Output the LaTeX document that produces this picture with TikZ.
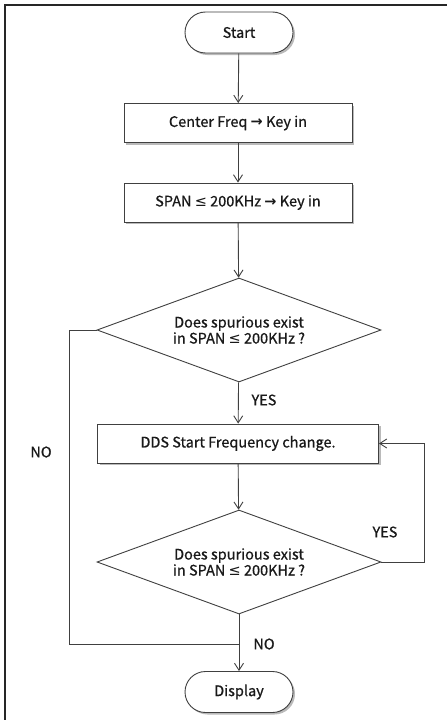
\documentclass[tikz,border=0pt]{standalone}
\usepackage{fontspec}
\setmainfont{Noto Sans CJK KR}[FakeBold=0.7]
\newfontfamily\symf{DejaVu Sans}
\usetikzlibrary{shapes.geometric,shapes.misc,arrows.meta,shadows}
\newcommand{\rarr}{{\symf\bfseries →}}
\newcommand{\leqs}{{\symf ≤}}
\begin{document}
\begin{tikzpicture}[x=1pt,y=-1pt,
  every node/.style={font=\fontsize{14.5}{17}\selectfont, text=black!90},
  line/.style={draw=black!75, line width=0.9pt},
  arr/.style={line, -{Straight Barb[length=7pt,width=9pt]}},
  shad/.style={drop shadow={shadow xshift=2pt,shadow yshift=-2pt,fill=black!45,opacity=.6}},
  term/.style={line, fill=white, shad, rounded rectangle, minimum width=108pt, minimum height=41pt, inner sep=0pt},
  procbox/.style={line, fill=white, shad, rectangle, minimum height=39pt, inner sep=0pt},
  decision/.style={line, fill=white, diamond, shape aspect=2.73, minimum width=284pt, minimum height=104pt, inner sep=0pt, align=center},
  lbl/.style={inner sep=0pt}
]
\useasboundingbox (0,0) rectangle (447,720);
\fill[white] (0,0) rectangle (447,720);
\draw[line width=1.6pt, black!85] (5,720) -- (5,5) -- (447,5);

\node[term] (start) at (239,32.5) {Start};
\node[procbox, minimum width=228pt] (cf) at (238,123) {Center Freq \rarr\ Key in};
\node[procbox, minimum width=228pt] (span) at (238,202.5) {SPAN \leqs\ 200KHz \rarr\ Key in};
\node[decision] (d1) at (239,330) {Does spurious exist\\[-1pt]in SPAN \leqs\ 200KHz ?};
\node[procbox, minimum width=281pt] (dds) at (238,443.5) {DDS Start Frequency change.};
\node[decision] (d2) at (239,562) {Does spurious exist\\[-1pt]in SPAN \leqs\ 200KHz ?};
\node[term] (disp) at (239,692) {Display};

\coordinate (nl) at (69,330);
\coordinate (nb) at (69,644);
\coordinate (j) at (239,644);
\coordinate (fr) at (424,562);
\coordinate (ft) at (424,443.5);

\draw[arr] (start) -- (cf);
\draw[arr] (cf) -- (span);
\draw[arr] (span) -- (d1);
\draw[arr] (d1) -- (dds);
\draw[arr] (dds) -- (d2);
\draw[arr] (d2) -- (disp);
\draw[arr] (d2.east) -- (fr) -- (ft) -- (dds.east);
\draw[line] (d1.west) -- (nl) -- (nb) -- (j);

\node[lbl] at (264,400) {YES};
\node[lbl] at (385,532) {YES};
\node[lbl] at (41,452) {NO};
\node[lbl] at (264,644) {NO};
\end{tikzpicture}
\end{document}
